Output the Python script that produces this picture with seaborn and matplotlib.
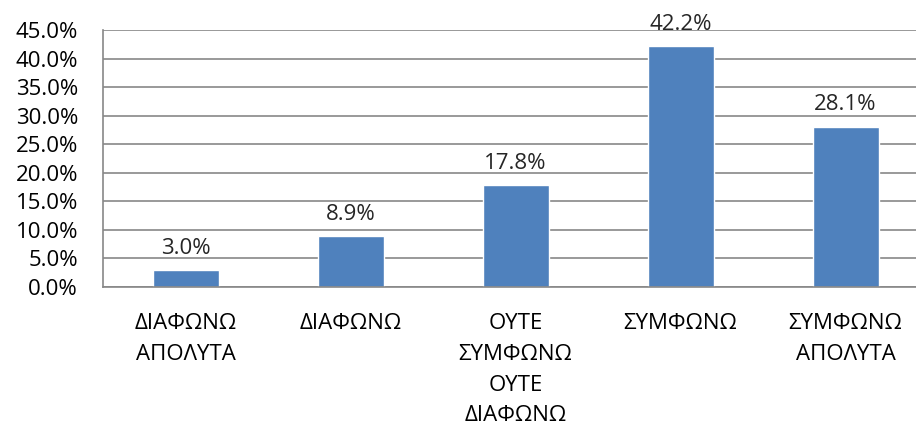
import matplotlib
matplotlib.use("Agg")
import matplotlib.pyplot as plt
import matplotlib.ticker as mticker
import seaborn as sns
import pandas as pd

# chart data
categories = ["ΔΙΑΦΩΝΩ\nΑΠΟΛΥΤΑ", "ΔΙΑΦΩΝΩ", "ΟΥΤΕ\nΣΥΜΦΩΝΩ\nΟΥΤΕ\nΔΙΑΦΩΝΩ",
              "ΣΥΜΦΩΝΩ", "ΣΥΜΦΩΝΩ\nΑΠΟΛΥΤΑ"]
values = [3.0, 8.9, 17.8, 42.2, 28.1]
y_ticks = [0, 5, 10, 15, 20, 25, 30, 35, 40, 45]

df = pd.DataFrame({"cat": categories, "val": values})

sns.set_style("white")
plt.rcParams["font.family"] = ["Open Sans", "DejaVu Sans"]

fig = plt.figure(figsize=(9.16, 4.32), dpi=100)
# axes placed in pixels: left 103, top 30, bottom 287, right ~928 (cut off by the image)
ax = fig.add_axes([103 / 916, (432 - 287) / 432, 825 / 916, 257 / 432])

sns.barplot(data=df, x="cat", y="val", color="#4F81BD", width=0.4,
            saturation=1, ax=ax)

ax.set_ylim(0, 45)
ax.set_xlim(-0.5, len(categories) - 0.5)
ax.set_yticks(y_ticks)
ax.yaxis.set_major_formatter(mticker.FuncFormatter(lambda v, p: f"{v:.1f}%"))
ax.yaxis.grid(True, color="#878787", linewidth=1.2)
ax.set_axisbelow(True)

for side in ["top", "right"]:
    ax.spines[side].set_visible(False)
for side in ["left", "bottom"]:
    ax.spines[side].set_color("#878787")
    ax.spines[side].set_linewidth(1.2)

ax.tick_params(axis="y", labelsize=16, pad=18, length=0, colors="black")
ax.tick_params(axis="x", labelsize=16, pad=19, length=0, colors="black")
for lbl in ax.get_xticklabels():
    lbl.set_linespacing(1.6)

ax.set_xlabel("")
ax.set_ylabel("")

for i, v in enumerate(values):
    ax.annotate(f"{v:.1f}%", (i, v), xytext=(0, 8), textcoords="offset points",
                ha="center", va="bottom", fontsize=16)

fig.savefig("out.png", dpi=100)
